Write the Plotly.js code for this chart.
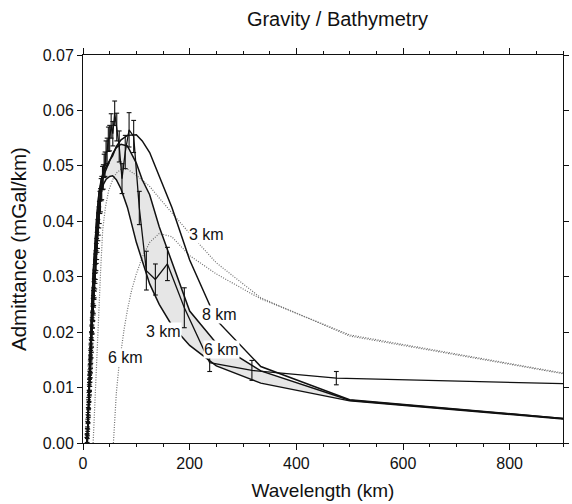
<!DOCTYPE html>
<html>
<head>
<meta charset="utf-8">
<script src="https://cdn.plot.ly/plotly-3.0.1.min.js"></script>
<style>html,body{margin:0;padding:0;background:#fff;}#chart{width:572px;height:504px;}</style>
</head>
<body>
<div id="chart"></div>
<script>
// Observed admittance (wavelength km, mGal/km, 1-sigma error)
var obsX = [7.2, 7.5, 7.8, 8.1, 8.4, 8.7, 9.0, 9.3, 9.6, 9.9, 10.2, 10.5, 10.8, 11.1, 11.4, 11.7, 12.0, 12.2, 12.3, 12.5, 12.7, 12.8, 13.0, 13.2, 13.4, 13.6, 13.8, 14.0, 14.2, 14.4, 14.6, 14.8, 15.1, 15.3, 15.6, 15.8, 16.1, 16.4, 16.7, 17.0, 17.3, 17.6, 17.9, 18.3, 18.6, 19.0, 19.4, 19.8, 20.2, 20.7, 21.1, 21.6, 22.1, 22.6, 23.2, 23.8, 24.4, 25.0, 25.7, 26.4, 27.1, 27.9, 28.8, 29.7, 30.6, 31.7, 32.8, 33.9, 35.2, 36.5, 38.0, 39.6, 41.3, 43.2, 45.2, 47.5, 50.0, 52.8, 55.9, 59.4, 63.3, 67.9, 73.1, 79.2, 86.4, 95.0, 105.6, 118.8, 135.7, 158.3, 190.0, 237.5, 316.7, 475.0, 950.0];
var obsY = [0.0002, 0.0006, 0.0009, 0.0017, 0.0021, 0.0030, 0.0034, 0.0043, 0.0046, 0.0055, 0.0059, 0.0069, 0.0072, 0.0082, 0.0085, 0.0095, 0.0098, 0.0105, 0.0104, 0.0112, 0.0113, 0.0119, 0.0121, 0.0128, 0.0130, 0.0137, 0.0139, 0.0146, 0.0147, 0.0155, 0.0157, 0.0165, 0.0167, 0.0175, 0.0177, 0.0186, 0.0187, 0.0198, 0.0199, 0.0209, 0.0212, 0.0221, 0.0223, 0.0233, 0.0236, 0.0246, 0.0250, 0.0260, 0.0264, 0.0275, 0.0279, 0.0290, 0.0295, 0.0305, 0.0313, 0.0324, 0.0329, 0.0342, 0.0350, 0.0362, 0.0370, 0.0384, 0.0395, 0.0407, 0.0416, 0.0434, 0.0438, 0.0457, 0.0460, 0.0478, 0.0480, 0.0500, 0.0503, 0.0523, 0.0527, 0.0548, 0.0550, 0.0572, 0.0558, 0.0595, 0.0570, 0.0535, 0.0477, 0.0525, 0.0565, 0.0553, 0.0424, 0.0311, 0.0295, 0.0323, 0.0244, 0.0145, 0.0131, 0.0117, 0.0106];
var obsErr = [0.0008, 0.0009, 0.0008, 0.0009, 0.0008, 0.0009, 0.0009, 0.0008, 0.0009, 0.0009, 0.0010, 0.0009, 0.0010, 0.0009, 0.0010, 0.0010, 0.0011, 0.0010, 0.0011, 0.0010,
  0.0011, 0.0010, 0.0011, 0.0011, 0.0012, 0.0011, 0.0012, 0.0011, 0.0012, 0.0012, 0.0013, 0.0012, 0.0013, 0.0012, 0.0013, 0.0013, 0.0014, 0.0013, 0.0014, 0.0013,
  0.0014, 0.0014, 0.0015, 0.0014, 0.0015, 0.0015, 0.0016, 0.0015, 0.0016, 0.0016, 0.0017, 0.0016, 0.0017, 0.0017, 0.0018, 0.0017, 0.0018, 0.0018, 0.0019, 0.0018,
  0.0019, 0.0019, 0.0020, 0.0019, 0.0020, 0.0020, 0.0021, 0.0020, 0.0021, 0.0021, 0.0022, 0.0021, 0.0022, 0.0022, 0.0023, 0.0022, 0.0023, 0.0022,
  0.0022, 0.0022, 0.0025, 0.0028, 0.0027, 0.0030, 0.0031, 0.0029, 0.0030, 0.0035, 0.0028, 0.0030, 0.0036, 0.0016, 0.0018, 0.0012, 0.0012];

// Model curves (solid): elastic thickness 3, 6, 8 km
var modelX = [8, 10, 12.5, 15, 17.5, 20, 23, 26, 30, 34, 38.5, 43.5, 50, 55.6, 62.5, 71.4, 83.3, 100, 111.1, 125, 142.9, 166.7, 200, 250, 333.3, 500, 1000];
var model3 = [0, 0.006, 0.014, 0.021, 0.027, 0.0315, 0.0355, 0.0395, 0.0430, 0.0452, 0.0467, 0.0476, 0.0481, 0.0482, 0.0475, 0.0458, 0.0425, 0.0362, 0.0328, 0.0287, 0.0250, 0.0212, 0.0176, 0.0139, 0.0108, 0.0076, 0.0035];
var model6 = [0, 0.006, 0.014, 0.021, 0.027, 0.032, 0.037, 0.041, 0.0452, 0.0470, 0.0482, 0.0494, 0.0508, 0.0522, 0.0533, 0.0539, 0.0536, 0.0505, 0.0475, 0.0448, 0.0390, 0.0325, 0.0238, 0.0180, 0.0130, 0.0077, 0.0036];
var model8 = [0, 0.006, 0.014, 0.021, 0.027, 0.032, 0.037, 0.041, 0.045, 0.0475, 0.0490, 0.0500, 0.0510, 0.0518, 0.0535, 0.0547, 0.0555, 0.0556, 0.0545, 0.0524, 0.0480, 0.0425, 0.0330, 0.0222, 0.0138, 0.0078, 0.0036];

// Model curves (dotted)
var dot3X = [19, 22, 25, 29, 33, 37, 42, 48, 55.6, 62.5, 71.4, 83.3, 100, 125, 142.9, 166.7, 200, 250, 333.3, 500, 1000];
var dot3Y = [0, 0.006, 0.013, 0.022, 0.031, 0.0385, 0.0425, 0.0455, 0.0475, 0.0487, 0.0494, 0.0494, 0.0483, 0.0463, 0.0442, 0.0415, 0.0378, 0.0325, 0.0262, 0.0193, 0.0108];
var dot6X = [57, 59, 62.5, 67, 71.4, 77, 83.3, 91, 100, 111.1, 125, 142.9, 166.7, 200, 250, 333.3, 500, 1000];
var dot6Y = [0, 0.004, 0.009, 0.0135, 0.017, 0.0205, 0.024, 0.0275, 0.0305, 0.0335, 0.0362, 0.0378, 0.0372, 0.0338, 0.0305, 0.0260, 0.0195, 0.0109];

// Labels
var labelText = ["3 km", "6 km", "8 km", "3 km", "6 km"];
var labelX = [231, 79, 256, 151, 259];
var labelY = [0.0377, 0.0154, 0.0231, 0.0201, 0.0168];

// Axis ranges
var xRange = [0, 900];
var yRange = [0, 0.07];

var bandX = modelX.concat(modelX.slice().reverse());
var bandY = model6.concat(model3.slice().reverse());

// error bars as line segments (stem + two caps), built from the observed arrays
var CAP = 4.5; // half-width of caps in km
var ebX = [], ebY = [];
obsX.forEach(function (x, i) {
  var lo = obsY[i] - obsErr[i], hi = obsY[i] + obsErr[i];
  ebX.push(x, x, null, x - CAP, x + CAP, null, x - CAP, x + CAP, null);
  ebY.push(lo, hi, null, lo, lo, null, hi, hi, null);
});

var FONT = 'Liberation Sans, Arial, Helvetica, sans-serif';

var traces = [
  {x: bandX, y: bandY, mode: 'lines', fill: 'toself', fillcolor: '#e6e6e6', line: {width: 0}, hoverinfo: 'skip'},
  {x: dot3X, y: dot3Y, mode: 'lines', line: {color: '#707070', width: 1.2, dash: '1px,1.5px'}},
  {x: dot6X, y: dot6Y, mode: 'lines', line: {color: '#707070', width: 1.2, dash: '1px,1.5px'}},
  {x: modelX, y: model3, mode: 'lines', line: {color: '#111', width: 1.5}},
  {x: modelX, y: model6, mode: 'lines', line: {color: '#111', width: 1.5}},
  {x: modelX, y: model8, mode: 'lines', line: {color: '#111', width: 1.5}},
  {x: obsX, y: obsY, mode: 'lines', line: {color: '#111', width: 1.3}},
  {x: ebX, y: ebY, mode: 'lines', line: {color: '#111', width: 1.1}, connectgaps: false, hoverinfo: 'skip'}
];

var annotations = labelText.map(function (t, i) {
  return {x: labelX[i], y: labelY[i], xref: 'x', yref: 'y', text: t, showarrow: false,
          font: {family: FONT, size: 16, color: '#111'},
          bgcolor: '#ffffff', borderpad: 0};
});

var base = {
  showline: true, linecolor: '#111', linewidth: 1, ticks: 'outside', mirror: 'ticks',
  tickcolor: '#111', tickwidth: 1, showgrid: false, zeroline: false,
  tickfont: {family: FONT, size: 16, color: '#111'}
};

var layout = {
  width: 572, height: 504,
  margin: {l: 83, r: 9, t: 55, b: 61},
  paper_bgcolor: '#fff', plot_bgcolor: '#fff',
  showlegend: false,
  title: {text: 'Gravity / Bathymetry', x: 0.59, xanchor: 'center', y: 0.962, yanchor: 'middle',
          font: {family: FONT, size: 20, color: '#111'}},
  xaxis: Object.assign({}, base, {
    range: xRange, dtick: 200, ticklen: 6,
    minor: {dtick: 50, ticks: 'outside', ticklen: 3, tickcolor: '#111'},
    title: {text: 'Wavelength (km)', standoff: 12, font: {family: FONT, size: 19, color: '#111'}}
  }),
  yaxis: Object.assign({}, base, {
    range: yRange, dtick: 0.01, tickformat: '.2f', ticklen: 5,
    title: {text: 'Admittance (mGal/km)', standoff: 10, font: {family: FONT, size: 20.5, color: '#111'}}
  }),
  annotations: annotations
};

Plotly.newPlot('chart', traces, layout, {displayModeBar: false});
</script>
</body>
</html>
